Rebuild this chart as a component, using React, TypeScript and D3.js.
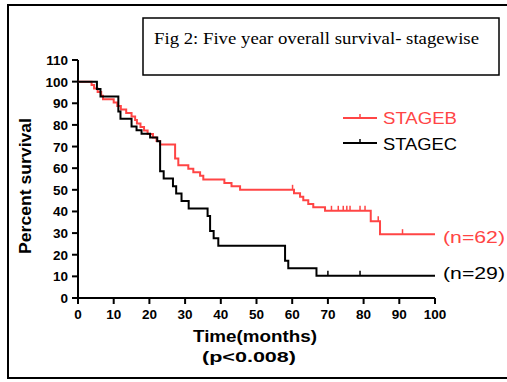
import { line, curveStepAfter, scaleLinear } from "d3";

const xTicks = [0, 10, 20, 30, 40, 50, 60, 70, 80, 90, 100];
const yTicks = [0, 10, 20, 30, 40, 50, 60, 70, 80, 90, 100, 110];

// [month, percent surviving]
const stageB: [number, number][] = [
  [0, 100], [3.8, 98.4], [4.5, 96.8], [5.5, 95.2], [6.5, 93.5], [7, 91.9],
  [10, 90.3], [11, 88.7], [12, 87.1], [13.5, 85.5], [15, 83.9], [16, 82.3],
  [16.5, 80.6], [17.5, 79], [18.5, 77.4], [19.5, 75.8], [21, 74.2], [22, 72.6],
  [23, 71], [27.2, 64.5], [28.1, 61.3], [30.9, 59.7], [32.3, 58.1], [34.2, 56.5],
  [35.1, 54.8], [41, 53.2], [43, 51.6], [45.4, 50], [60.5, 48.4], [62.2, 46.8],
  [63.1, 45.2], [64.5, 43.5], [65.9, 41.9], [69.2, 40.3], [82, 35.5], [84.6, 29.5],
  [100, 29.5],
];
const stageBCensored = [
  [60.1, 50], [71, 40.3], [72.9, 40.3], [74.3, 40.3], [75.3, 40.3], [76.2, 40.3],
  [79, 40.3], [80.4, 40.3], [84.1, 35.5], [90.9, 29.5],
];

const stageC: [number, number][] = [
  [0, 100], [5.3, 96.6], [6.3, 93.1], [11.3, 86.2], [11.9, 82.8], [15, 79.3],
  [16.4, 77.5], [17.8, 75.9], [20.2, 74.2], [22.2, 72.4], [23, 58.6], [24, 55.2],
  [26.6, 51.7], [27.5, 48.3], [29, 44.8], [31, 41.4], [36.3, 37.9], [37, 31],
  [38, 27.6], [39.3, 24.1], [58, 17.2], [58.9, 13.8], [66.8, 10.3], [100, 10.3],
];
const stageCCensored = [[70, 10.3], [79, 10.3]];

const RED = "#ff4545";
const FONT = "'Liberation Sans', Arial, sans-serif";

export default function App() {
  const x = scaleLinear().domain([0, 100]).range([78, 435]);
  const y = scaleLinear().domain([0, 110]).range([298, 60]);

  const path = line<[number, number]>()
    .x((d) => x(d[0]))
    .y((d) => y(d[1]))
    .curve(curveStepAfter);

  const ticks = (pts: number[][], color: string) =>
    pts.map((d, i) => (
      <line
        key={i}
        x1={x(d[0])}
        x2={x(d[0])}
        y1={y(d[1])}
        y2={y(d[1]) - 5}
        stroke={color}
        strokeWidth={1.5}
      />
    ));

  return (
    <svg
      width={507}
      height={382}
      style={{ position: "absolute", left: 0, top: 0 }}
    >
      <rect x={0} y={0} width={507} height={382} fill="#fff" />
      <rect x={8} y={5} width={505} height={373} fill="none" stroke="#000" strokeWidth={2} />

      {/* title box */}
      <rect x={143} y={18} width={356} height={57} fill="none" stroke="#000" strokeWidth={1.5} />
      <text
        x={154}
        y={44}
        fontFamily="'Liberation Serif', 'Times New Roman', serif"
        fontSize={17.5}
        textLength={325}
        lengthAdjust="spacingAndGlyphs"
      >
        Fig 2: Five year overall survival- stagewise
      </text>

      {/* y axis */}
      <line x1={78} x2={78} y1={y(110)} y2={y(0)} stroke="#000" strokeWidth={2} />
      {yTicks.map((t) => (
        <g key={t}>
          <line x1={72} x2={78} y1={y(t)} y2={y(t)} stroke="#000" strokeWidth={2} />
          <text
            x={68}
            y={y(t) + 5}
            textAnchor="end"
            fontFamily={FONT}
            fontWeight="bold"
            fontSize={13.5}
          >
            {t}
          </text>
        </g>
      ))}
      <text
        transform="translate(31,186) rotate(-90)"
        textAnchor="middle"
        fontFamily={FONT}
        fontWeight="bold"
        fontSize={16}
        textLength={136}
        lengthAdjust="spacingAndGlyphs"
      >
        Percent survival
      </text>

      {/* x axis */}
      <line x1={x(0)} x2={x(100)} y1={298} y2={298} stroke="#000" strokeWidth={2} />
      {xTicks.map((t) => (
        <g key={t}>
          <line x1={x(t)} x2={x(t)} y1={298} y2={304} stroke="#000" strokeWidth={2} />
          <text
            x={x(t)}
            y={319}
            textAnchor="middle"
            fontFamily={FONT}
            fontWeight="bold"
            fontSize={13.5}
          >
            {t}
          </text>
        </g>
      ))}
      <text
        x={255}
        y={342}
        textAnchor="middle"
        fontFamily={FONT}
        fontWeight="bold"
        fontSize={16}
        textLength={124}
        lengthAdjust="spacingAndGlyphs"
      >
        Time(months)
      </text>
      <text
        x={249}
        y={362}
        textAnchor="middle"
        fontFamily={FONT}
        fontWeight="bold"
        fontSize={15}
        textLength={94}
        lengthAdjust="spacingAndGlyphs"
      >
        (p&lt;0.008)
      </text>

      {/* curves */}
      <path d={path(stageB) ?? ""} fill="none" stroke={RED} strokeWidth={2} />
      {ticks(stageBCensored, RED)}
      <path d={path(stageC) ?? ""} fill="none" stroke="#000" strokeWidth={2} />
      {ticks(stageCCensored, "#000")}

      {/* legend */}
      <line x1={343} x2={377} y1={118} y2={118} stroke={RED} strokeWidth={2} />
      <line x1={360} x2={360} y1={118} y2={114} stroke={RED} strokeWidth={1.5} />
      <text x={383} y={124} fontFamily={FONT} fontSize={16.5} fill={RED} textLength={74} lengthAdjust="spacingAndGlyphs">
        STAGEB
      </text>
      <line x1={343} x2={377} y1={143} y2={143} stroke="#000" strokeWidth={2} />
      <line x1={360} x2={360} y1={143} y2={139} stroke="#000" strokeWidth={1.5} />
      <text x={383} y={150} fontFamily={FONT} fontSize={16.5} fill="#000" textLength={74} lengthAdjust="spacingAndGlyphs">
        STAGEC
      </text>

      <text x={443} y={243} fontFamily={FONT} fontSize={17} fill={RED} textLength={62} lengthAdjust="spacingAndGlyphs">
        (n=62)
      </text>
      <text x={443} y={279} fontFamily={FONT} fontSize={17} fill="#000" textLength={62} lengthAdjust="spacingAndGlyphs">
        (n=29)
      </text>
    </svg>
  );
}
